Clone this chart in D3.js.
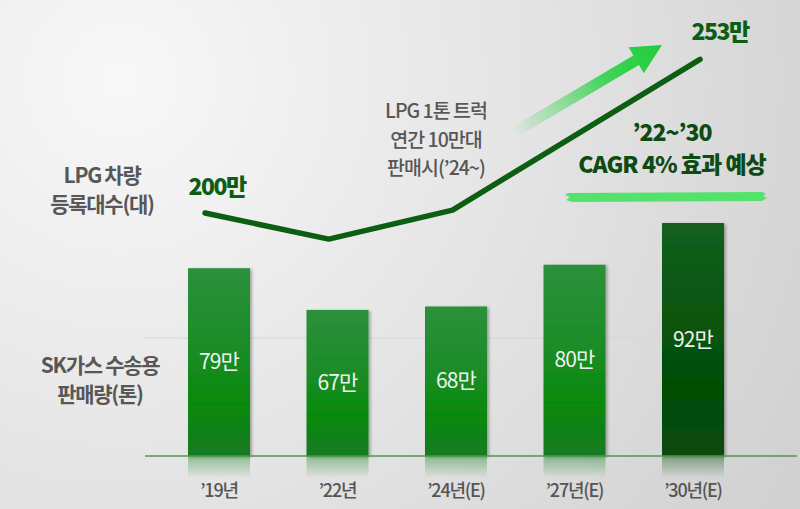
<!DOCTYPE html>
<html><head><meta charset="utf-8">
<script src="https://cdn.jsdelivr.net/npm/d3@7"></script>
<style>html,body{margin:0;padding:0;background:#e6e6e6;}svg{display:block;}</style>
</head><body>
<svg id="c" width="800" height="509"></svg>
<script>
// ---- data ----
const categories = ["’19년", "’22년", "’24년(E)", "’27년(E)", "’30년(E)"];
const salesValues = [79, 67, 68, 80, 92];           // SK가스 수송용 판매량 (만 톤)
const salesLabels = ["79만", "67만", "68만", "80만", "92만"];
const lineIndex = [0, 1, 2, 4];                      // category index of line points
const regValues = [200, 191, 201, 253];              // LPG 차량 등록대수 (만 대)
const regLabels = {0: "200만", 3: "253만"};
const leftLabelTop = ["LPG 차량", "등록대수(대)"];
const leftLabelBottom = ["SK가스 수송용", "판매량(톤)"];
const noteLines = ["LPG 1톤 트럭", "연간 10만대", "판매시(’24~)"];
const cagrLines = ["’22~’30", "CAGR 4% 효과 예상"];

const W = 800, H = 509;
const svg = d3.select("#c");
const defs = svg.append("defs");
const FONT = "'Noto Sans CJK KR','Noto Sans',sans-serif";

// background
const bg = defs.append("radialGradient").attr("id","bg").attr("gradientUnits","userSpaceOnUse")
  .attr("cx",120).attr("cy",80).attr("r",820);
bg.append("stop").attr("offset","0").attr("stop-color","#f8f8f8");
bg.append("stop").attr("offset","0.55").attr("stop-color","#e2e2e2");
bg.append("stop").attr("offset","1").attr("stop-color","#cfcfcf");
svg.append("rect").attr("width",W).attr("height",H).attr("fill","url(#bg)");

// scales
const baseY = 456;
const x = d3.scalePoint().domain(categories).range([219, 693]);
const y = d3.scaleLinear().domain([25, 92]).range([baseY, 223]);
const barW = 62;
const lx = d3.scaleLinear().domain([0, 4]).range([205, 700]);
const ly = d3.scaleLinear().domain([180, 260]).range([271, 39]);

// gradients
function vgrad(id, stops){
  const g = defs.append("linearGradient").attr("id",id).attr("x1",0).attr("y1",0).attr("x2",0).attr("y2",1);
  stops.forEach(s=>g.append("stop").attr("offset",s[0]).attr("stop-color",s[1]).attr("stop-opacity",s[2]==null?1:s[2]));
}
vgrad("barG", [[0,"#2c903b"],[0.45,"#1a8c26"],[0.72,"#068a0a"],[1,"#177a24"]]);
vgrad("barD", [[0,"#135f1d"],[0.72,"#024d05"],[1,"#0a4a12"]]);
vgrad("refG", [[0,"#1f8a2a",0.45],[1,"#1f8a2a",0]]);
vgrad("refD", [[0,"#0f5a18",0.45],[1,"#0f5a18",0]]);

const sh = defs.append("filter").attr("id","sh").attr("x","-20%").attr("y","-10%").attr("width","140%").attr("height","120%");
sh.append("feDropShadow").attr("dx",2).attr("dy",1).attr("stdDeviation",1.5).attr("flood-color","#000").attr("flood-opacity",0.3);

// faint guide line
svg.append("line").attr("x1",143).attr("x2",800).attr("y1",338).attr("y2",338)
  .attr("stroke","#d6d6d6").attr("stroke-width",1);

// reflections
svg.selectAll("rect.ref").data(salesValues).join("rect").attr("class","ref")
  .attr("x",(d,i)=>x(categories[i]) - barW/2).attr("y",baseY)
  .attr("width",barW).attr("height",22)
  .attr("fill",(d,i)=> i===4 ? "url(#refD)" : "url(#refG)");

// bars
svg.selectAll("rect.bar").data(salesValues).join("rect").attr("class","bar")
  .attr("x",(d,i)=>x(categories[i]) - barW/2).attr("y",d=>y(d))
  .attr("width",barW).attr("height",d=>baseY - y(d))
  .attr("fill",(d,i)=> i===4 ? "url(#barD)" : "url(#barG)")
  .attr("filter","url(#sh)");

// baseline
svg.append("line").attr("x1",145).attr("x2",797).attr("y1",baseY).attr("y2",baseY)
  .attr("stroke","#4a9a4a").attr("stroke-width",1.5);

// bar labels
svg.selectAll("text.bl").data(salesValues).join("text").attr("class","bl")
  .attr("x",(d,i)=>x(categories[i])).attr("y",d=>(y(d)+baseY)/2 + 7)
  .attr("text-anchor","middle").attr("font-family",FONT).attr("font-size",21)
  .attr("fill","#eef3ee").attr("letter-spacing",-0.8).text((d,i)=>salesLabels[i]);

// x labels
svg.selectAll("text.xl").data(categories).join("text").attr("class","xl")
  .attr("x",d=>x(d)).attr("y",497).attr("text-anchor","middle")
  .attr("font-family",FONT).attr("font-size",18).attr("font-weight",500)
  .attr("fill","#555").attr("letter-spacing",-1.2).text(d=>d);

// arrow (light green, gradient)
(function(){
  const x0=513,y0=133,x1=662,y1=45;
  const ang = Math.atan2(y1-y0, x1-x0)*180/Math.PI;
  const len = Math.hypot(x1-x0,y1-y0);
  const ag = defs.append("linearGradient").attr("id","arrG").attr("gradientUnits","userSpaceOnUse")
    .attr("x1",0).attr("y1",0).attr("x2",len).attr("y2",0);
  ag.append("stop").attr("offset",0).attr("stop-color","#3fd257").attr("stop-opacity",0);
  ag.append("stop").attr("offset",0.65).attr("stop-color","#33d34c").attr("stop-opacity",0.95);
  ag.append("stop").attr("offset",1).attr("stop-color","#22cc3a").attr("stop-opacity",1);
  const hw=5.5, hl=30, hh=15;
  const p = `M0,${-hw} L${len-hl},${-hw} L${len-hl},${-hh} L${len},0 L${len-hl},${hh} L${len-hl},${hw} L0,${hw} Z`;
  svg.append("path").attr("d",p).attr("fill","url(#arrG)")
    .attr("transform",`translate(${x0},${y0}) rotate(${ang})`);
})();

// registration line
const line = d3.line().x((d,i)=>lx(lineIndex[i])).y(d=>ly(d));
svg.append("path").datum(regValues).attr("d",line)
  .attr("fill","none").attr("stroke","#0b5e12").attr("stroke-width",5.5)
  .attr("stroke-linecap","round").attr("stroke-linejoin","round");

// line value labels
svg.append("text").attr("x",lx(lineIndex[0])+12).attr("y",ly(regValues[0])-18)
  .attr("text-anchor","middle").attr("font-family",FONT).attr("font-size",23).attr("font-weight",900)
  .attr("fill","#0b5e12").attr("letter-spacing",-1.5).text(regLabels[0]);
svg.append("text").attr("x",lx(lineIndex[3])+20).attr("y",ly(regValues[3])-19)
  .attr("text-anchor","middle").attr("font-family",FONT).attr("font-size",23).attr("font-weight",900)
  .attr("fill","#0b5e12").attr("letter-spacing",-1.5).text(regLabels[3]);

// text blocks
function lines(arr, cx, y0, dy, opts){
  arr.forEach((t,i)=>{
    const el = svg.append("text").attr("x",cx).attr("y",y0+i*dy).attr("text-anchor","middle")
      .attr("font-family",FONT).text(t);
    Object.entries(opts).forEach(([k,v])=>el.attr(k,v));
  });
}
const leftStyle = {"font-size":21,"font-weight":600,"fill":"#575757","letter-spacing":-1.3};
lines(leftLabelTop, 102, 183, 29, leftStyle);
lines(leftLabelBottom, 100, 373, 29, leftStyle);
lines(noteLines, 436, 118, 28.5, {"font-size":19.5,"font-weight":500,"fill":"#575757","letter-spacing":-1});

// CAGR brush underline
svg.append("path")
  .attr("d","M568,193 L762,192 L766,194 L763,196 L767,198 L762,201 L572,202 L566,200 L570,197 L565,195 Z")
  .attr("fill","#55e26c");
lines(cagrLines, 672, 141, 32, {"font-size":23,"font-weight":900,"fill":"#0d4a14","letter-spacing":-1});
</script>
</body></html>
